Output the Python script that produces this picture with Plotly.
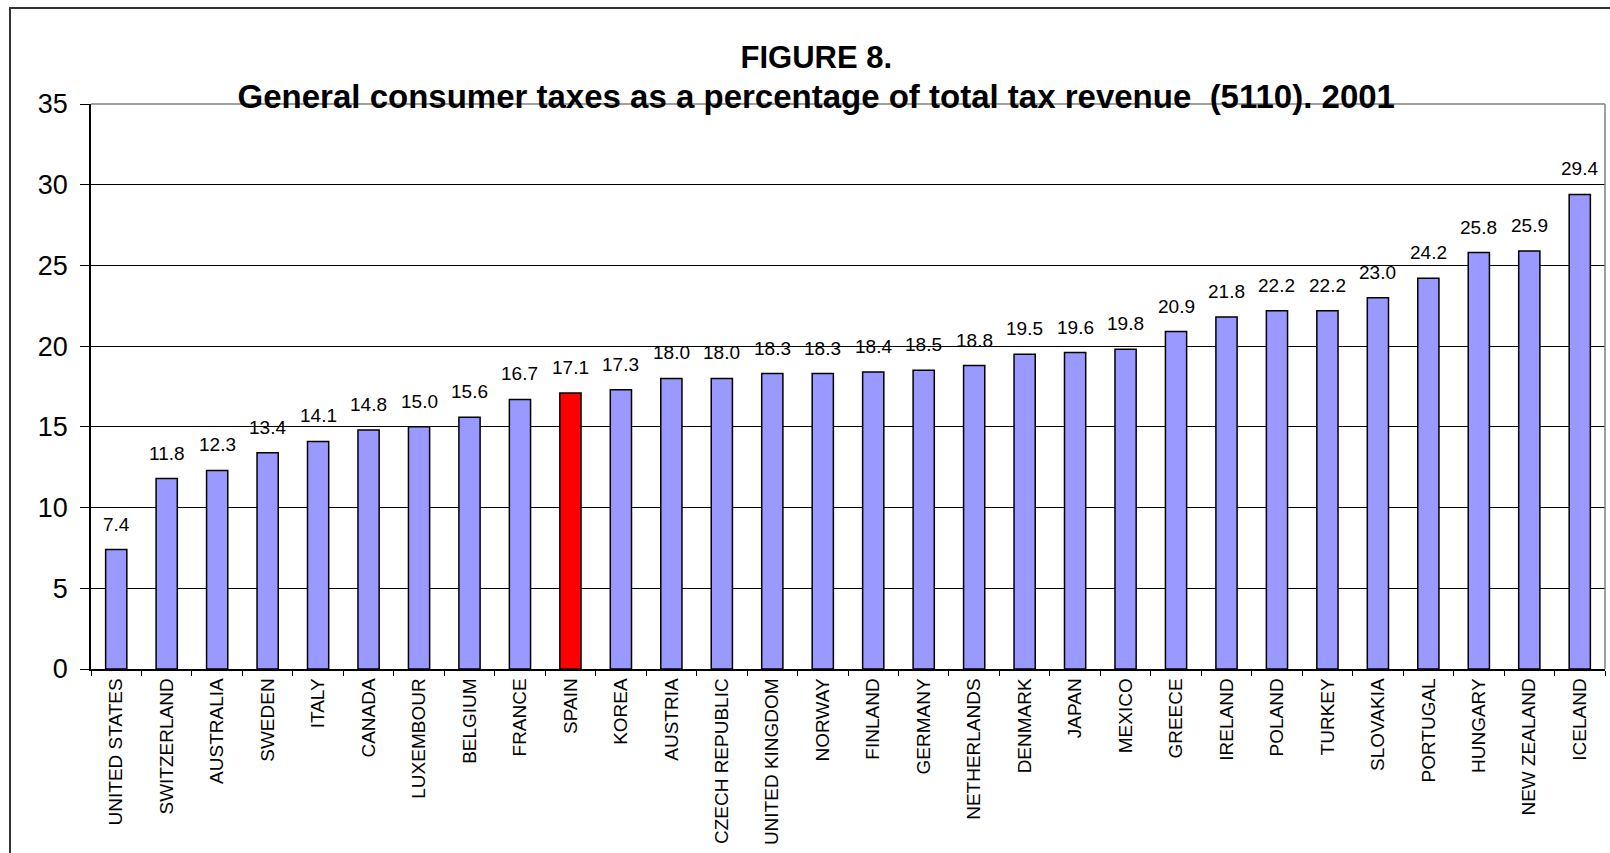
import plotly.graph_objects as go

countries = ["UNITED STATES", "SWITZERLAND", "AUSTRALIA", "SWEDEN", "ITALY", "CANADA",
             "LUXEMBOUR", "BELGIUM", "FRANCE", "SPAIN", "KOREA", "AUSTRIA",
             "CZECH REPUBLIC", "UNITED KINGDOM", "NORWAY", "FINLAND", "GERMANY",
             "NETHERLANDS", "DENMARK", "JAPAN", "MEXICO", "GREECE", "IRELAND",
             "POLAND", "TURKEY", "SLOVAKIA", "PORTUGAL", "HUNGARY", "NEW ZEALAND",
             "ICELAND"]
values = [7.4, 11.8, 12.3, 13.4, 14.1, 14.8, 15.0, 15.6, 16.7, 17.1, 17.3, 18.0,
          18.0, 18.3, 18.3, 18.4, 18.5, 18.8, 19.5, 19.6, 19.8, 20.9, 21.8,
          22.2, 22.2, 23.0, 24.2, 25.8, 25.9, 29.4]
highlight = "SPAIN"
y_ticks = [0, 5, 10, 15, 20, 25, 30, 35]

BAR = "#9999FF"
HL = "#FF0000"
FONT = "Liberation Sans, Arial, sans-serif"

colors = [HL if c == highlight else BAR for c in countries]

fig = go.Figure()
fig.add_trace(go.Bar(
    x=countries, y=values,
    marker=dict(color=colors, line=dict(color="black", width=1.5)),
    hoverinfo="x+y",
))

for c, v in zip(countries, values):
    fig.add_annotation(x=c, y=v, text=f"{v:.1f}", showarrow=False,
                       yanchor="bottom", xanchor="center", yshift=13,
                       font=dict(family=FONT, size=19, color="black"))

# outer chart border (left and top visible)
fig.add_shape(type="rect", xref="paper", yref="paper",
              x0=-81/1514, x1=1.006, y0=-0.36, y1=(669-8)/565,
              line=dict(color="#333333", width=2), layer="below")
# plot area frame top/right (gray)
fig.add_shape(type="line", xref="paper", yref="paper", x0=0, x1=1, y0=1, y1=1,
              line=dict(color="#808080", width=1.5), layer="above")
fig.add_shape(type="line", xref="paper", yref="paper", x0=1, x1=1, y0=0, y1=1,
              line=dict(color="#808080", width=1.5), layer="above")

fig.update_layout(
    width=1610, height=853,
    margin=dict(l=91, r=5, t=104, b=184),
    paper_bgcolor="white", plot_bgcolor="white",
    bargap=0.58,
    showlegend=False,
    font=dict(family=FONT, color="black"),
    title=dict(
        text=("<b>FIGURE 8.</b><br><span style='font-size:33px'><b>General consumer taxes "
              "as a percentage of total tax revenue &nbsp;(5110). 2001</b></span>"),
        x=0.507, xanchor="center", y=1 - 68/853, yanchor="bottom",
        font=dict(family=FONT, size=31, color="black"),
    ),
)
fig.update_xaxes(
    type="category", showline=True, linecolor="black", linewidth=1.5,
    ticks="outside", tickson="boundaries", ticklen=5, tickcolor="black",
    tickangle=-90, tickfont=dict(family=FONT, size=19, color="black"),
    showgrid=False, ticklabelstandoff=0,
)
fig.update_yaxes(
    range=[0, 35], tickvals=y_ticks, showline=True, linecolor="black", linewidth=1.5,
    ticks="outside", ticklen=9, tickcolor="black",
    tickfont=dict(family=FONT, size=27, color="black"),
    showgrid=True, gridcolor="black", gridwidth=1, zeroline=False,
    ticklabelstandoff=7,
)

fig.write_html("out.html")
